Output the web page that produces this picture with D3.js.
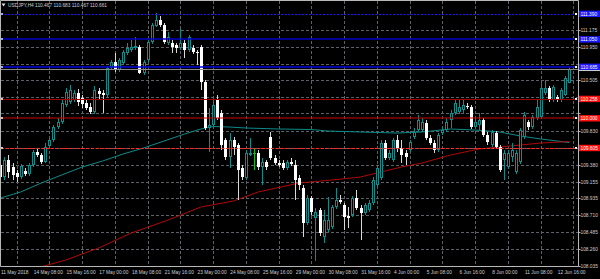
<!DOCTYPE html>
<html><head><meta charset="utf-8">
<script src="https://cdn.jsdelivr.net/npm/d3@7"></script>
<style>body{margin:0;background:#000;overflow:hidden}svg{display:block}</style>
</head><body><svg id="c" width="600" height="279"></svg>
<script>
// ---------------- DATA ----------------
const symbol = "USDJPY,H4";
const open = [109.379,109.219,109.445,109.352,109.272,109.219,109.299,109.259,109.379,109.552,
109.512,109.419,109.632,109.711,109.884,109.951,110.177,110.217,110.244,110.337,
110.270,110.204,110.150,110.084,110.363,110.337,110.310,110.669,110.749,110.643,
110.736,110.869,110.909,110.935,110.949,110.603,110.776,111.015,111.228,111.308,
111.241,111.002,111.002,110.975,110.935,111.002,110.909,110.935,110.882,110.949,
110.483,109.871,109.911,110.244,110.071,109.711,109.485,109.711,109.645,109.339,
109.206,109.512,109.538,109.538,109.352,109.419,109.751,109.472,109.405,109.405,
109.339,109.419,109.379,109.206,109.073,108.607,108.939,108.673,108.780,108.421,
108.514,108.554,108.820,108.913,108.846,108.700,108.713,108.939,108.806,108.740,
108.780,108.873,109.113,109.206,109.671,109.472,109.445,109.711,109.605,109.538,
109.578,109.751,109.844,109.844,109.937,109.738,109.671,109.578,109.804,109.844,
109.977,110.071,110.084,110.110,110.164,110.150,109.884,109.911,109.977,109.778,
109.645,109.804,109.618,109.445,109.352,109.485,109.286,109.419,109.751,109.951,
109.884,110.004,110.017,110.337,110.403,110.244,110.283,110.244,110.310,110.467];
const high = [109.445,109.485,109.512,109.405,109.312,109.392,109.339,109.405,109.578,109.605,
109.538,109.671,109.738,109.911,110.004,110.244,110.403,110.443,110.377,110.390,
110.310,110.244,110.204,110.430,110.403,110.377,110.696,110.776,110.869,110.802,
110.909,111.002,111.042,111.082,110.975,110.776,111.042,111.268,111.401,111.361,
111.268,111.148,111.042,111.002,111.188,111.042,111.108,110.975,110.909,110.975,
110.510,110.137,110.244,110.310,110.110,109.738,109.804,109.751,109.671,109.379,
109.578,109.738,109.592,109.578,109.472,109.445,109.818,109.512,109.445,109.445,
109.445,109.472,109.445,109.246,109.113,108.980,108.966,108.806,108.806,108.780,
108.953,108.846,109.073,108.980,108.873,108.820,108.966,109.046,108.846,108.873,
108.913,109.219,109.379,109.711,109.711,109.578,109.738,109.778,109.711,109.578,
109.711,109.871,110.043,110.004,109.977,109.778,109.711,109.804,109.884,110.004,
110.110,110.244,110.244,110.244,110.204,110.177,110.004,110.071,110.004,109.818,
109.844,109.831,109.645,109.578,109.578,109.671,109.578,109.871,110.084,109.977,
110.043,110.244,110.510,110.510,110.430,110.443,110.310,110.403,110.563,110.683];
const low = [109.179,109.179,109.206,109.179,109.153,109.192,109.232,109.232,109.352,109.485,
109.392,109.405,109.605,109.685,109.858,109.924,110.150,110.190,110.217,110.164,
110.137,110.110,110.057,110.057,110.244,110.071,110.283,110.643,110.616,110.616,
110.709,110.842,110.882,110.909,110.589,110.576,110.749,110.989,111.215,111.215,
110.989,110.975,110.869,110.869,110.909,110.802,110.882,110.856,110.709,110.377,
109.844,109.552,109.884,109.977,109.578,109.445,109.339,109.512,108.913,109.179,
109.179,109.498,109.312,109.312,109.113,109.312,109.445,109.379,109.352,109.312,
109.312,109.365,108.913,109.046,108.421,108.580,108.713,108.102,108.434,108.341,
108.487,108.527,108.793,108.860,108.514,108.540,108.687,108.780,108.381,108.713,
108.753,108.846,109.086,109.179,109.445,109.445,109.419,109.552,109.405,109.379,
109.552,109.725,109.818,109.818,109.711,109.645,109.538,109.552,109.778,109.818,
109.871,110.043,110.057,110.071,110.124,109.858,109.858,109.844,109.751,109.645,
109.618,109.592,109.286,109.179,109.325,109.419,109.259,109.392,109.725,109.844,
109.858,109.977,109.991,110.310,110.217,110.217,110.217,110.217,110.297,110.467];
const close = [109.219,109.445,109.286,109.246,109.219,109.365,109.259,109.379,109.552,109.512,
109.419,109.618,109.711,109.884,109.951,110.204,110.350,110.377,110.337,110.217,
110.190,110.137,110.084,110.377,110.323,110.310,110.669,110.749,110.643,110.776,
110.882,110.935,110.949,110.962,110.603,110.749,111.015,111.241,111.308,111.241,
111.015,111.082,110.949,110.935,111.002,110.909,111.082,110.882,110.869,110.483,
109.871,109.911,110.177,110.004,109.645,109.485,109.711,109.618,109.312,109.219,
109.538,109.538,109.538,109.352,109.419,109.352,109.472,109.405,109.379,109.339,
109.419,109.392,109.179,109.113,108.607,108.939,108.753,108.753,108.474,108.647,
108.647,108.820,108.913,108.886,108.687,108.673,108.939,108.806,108.740,108.846,
108.873,109.179,109.339,109.671,109.472,109.538,109.711,109.605,109.512,109.485,
109.685,109.818,109.977,109.951,109.738,109.671,109.578,109.778,109.844,109.951,
110.071,110.204,110.150,110.177,110.150,109.884,109.951,109.977,109.778,109.685,
109.818,109.618,109.312,109.538,109.538,109.578,109.538,109.844,110.043,109.884,
110.017,110.150,110.403,110.403,110.244,110.416,110.244,110.377,110.536,110.661];

const timeLabels = ["11 May 2018","14 May 08:00","15 May 16:00","17 May 00:00","18 May 08:00","21 May 16:00",
"23 May 00:00","24 May 08:00","25 May 16:00","29 May 00:00","30 May 08:00","31 May 16:00",
"4 Jun 00:00","5 Jun 08:00","6 Jun 16:00","8 Jun 00:00","11 Jun 08:00","12 Jun 16:00"];
const timeLabelBars = [0,8,16,24,32,40,48,56,64,72,80,88,96,104,112,120,128,136];

const priceTicks = [111.175,110.950,110.725,110.505,110.280,110.065,109.830,109.605,109.380,109.155,108.935,108.710,108.485,108.260,108.035];

const maTealBars = [0,5,10,15,20,25,30,35,40,45,49,52,56,60,68,76,80,88,97,103,110,116,122,127,132,139];
const maTeal = [108.939,109.020,109.139,109.246,109.352,109.432,109.525,109.605,109.698,109.791,109.858,109.891,109.884,109.871,109.858,109.851,109.831,109.818,109.804,109.818,109.858,109.844,109.818,109.765,109.725,109.678];
const maRedBars = [9,16,24,32,41,49,57,63,73,81,88,93,98,103,110,117,122,127,132,139];
const maRed = [108.008,108.115,108.274,108.474,108.647,108.820,108.900,109.020,109.139,109.179,109.219,109.286,109.352,109.405,109.512,109.592,109.618,109.645,109.671,109.691];

const levels = [111.390,111.050,110.685,110.258,110.000,109.605];

// ---------------- STYLE ----------------
const levelStyle = [
  {c:"#1a1aff", w:1, dash:"2,1.5", box:"#1a1aff"},
  {c:"#0000c8", w:1.5, dash:null, box:"#1a1aff"},
  {c:"#0000e0", w:1.5, dash:null, box:"#1a1aff"},
  {c:"#a00000", w:1, dash:null, box:"#ff1010"},
  {c:"#d00000", w:1.2, dash:null, box:"#ff1010"},
  {c:"#ff2a2a", w:1, dash:"3,1.5", box:"#ff1010"}
];
const TEAL = "#0b8e8e", BEAR = "#ffffff", TXT = "#cfcfcf", FRAME = "#b8b8b8", GRID = "#5c6268";
const FONT = "'Liberation Sans', Arial, sans-serif", FS = 4.8;

// ---------------- DRAW ----------------
const W = 600, H = 279, PR = 578, PB = 266;
const x = d3.scaleLinear().domain([8,136]).range([33,557]);
const y = d3.scaleLinear().domain([108.035,111.175]).range([266,30]);
const px = v => Math.round(v) + 0.5;

const svg = d3.select("#c");
svg.append("rect").attr("width",W).attr("height",H).attr("fill","#000");
svg.append("defs").append("clipPath").attr("id","clip")
  .append("rect").attr("x",1).attr("y",1).attr("width",PR-1).attr("height",PB-1);
const g = svg.append("g").attr("clip-path","url(#clip)");

// grid
g.selectAll(".vg").data(timeLabelBars).enter().append("line")
  .attr("x1",d=>px(x(d+4))).attr("x2",d=>px(x(d+4))).attr("y1",1).attr("y2",PB)
  .attr("stroke",GRID).attr("stroke-width",1).attr("stroke-dasharray","3,2");
g.selectAll(".hg").data(priceTicks).enter().append("line")
  .attr("x1",1).attr("x2",PR).attr("y1",d=>px(y(d))).attr("y2",d=>px(y(d)))
  .attr("stroke",GRID).attr("stroke-width",1).attr("stroke-dasharray","3,2");

// moving averages
const line = d3.line().x(d=>x(d[0])).y(d=>y(d[1]));
g.append("path").attr("d",line(maTealBars.map((b,i)=>[b,maTeal[i]])))
  .attr("fill","none").attr("stroke","#0c8a8a").attr("stroke-width",1);
g.append("path").attr("d",line(maRedBars.map((b,i)=>[b,maRed[i]])))
  .attr("fill","none").attr("stroke","#b00808").attr("stroke-width",1);

// candles
const idx = d3.range(open.length);
const cg = g.append("g");
idx.forEach(i=>{
  const o=open[i], c=close[i], hi=high[i], lo=low[i];
  const cx = Math.round(x(i));
  const doji = o===c, bull = c>o;
  const col = doji ? "#12c012" : (bull ? TEAL : "#d8d8d8");
  cg.append("line").attr("x1",cx+0.5).attr("x2",cx+0.5)
    .attr("y1",y(hi)).attr("y2",y(lo)).attr("stroke",col).attr("stroke-width",1);
  if (doji) {
    cg.append("line").attr("x1",cx-1).attr("x2",cx+2).attr("y1",px(y(o))).attr("y2",px(y(o)))
      .attr("stroke",col).attr("stroke-width",1);
    return;
  }
  const top = Math.round(y(Math.max(o,c))), bot = Math.round(y(Math.min(o,c)));
  cg.append("rect").attr("x",cx-0.5).attr("width",2)
    .attr("y",top+0.5).attr("height",Math.max(bot-top-1,0.01))
    .attr("fill",bull?"#000":BEAR).attr("stroke",bull?TEAL:BEAR).attr("stroke-width",1);
});

// bid line
const bid = close[close.length-1];
g.append("line").attr("x1",1).attr("x2",PR).attr("y1",px(y(bid))).attr("y2",px(y(bid)))
  .attr("stroke","#8a8a8a").attr("stroke-width",1);

// horizontal level lines
levels.forEach((v,i)=>{
  const s = levelStyle[i];
  const yy = Math.round(y(v)) + (s.w>1?0:0.5);
  const l = g.append("line").attr("x1",1).attr("x2",PR).attr("y1",yy).attr("y2",yy)
    .attr("stroke",s.c).attr("stroke-width",s.w);
  if (s.dash) l.attr("stroke-dasharray",s.dash);
  g.append("rect").attr("x",1).attr("y",Math.round(y(v))-1).attr("width",2).attr("height",2)
    .attr("fill", i<3 ? "#9aa8ff" : "#ffb0b0");
  g.append("rect").attr("x",PR-3).attr("y",Math.round(y(v))-1).attr("width",2).attr("height",2)
    .attr("fill","#ffffff");
});

// frame
svg.append("path").attr("d",`M0.5,${PB+0.5} V0.5 H${PR+0.5} V${PB+0.5} H0.5`)
  .attr("fill","none").attr("stroke",FRAME).attr("stroke-width",1);

// price axis (tick labels hidden under level boxes are not drawn, as in the source)
const covered = t => levels.some(v=>Math.abs(y(v)-y(t))<6.5);
svg.selectAll(".pt").data(priceTicks).enter().append("line")
  .attr("x1",PR+0.5).attr("x2",PR+2.5).attr("y1",d=>px(y(d))).attr("y2",d=>px(y(d)))
  .attr("stroke",FRAME).attr("stroke-width",1);
svg.selectAll(".pl").data(priceTicks.filter(t=>!covered(t))).enter().append("text")
  .attr("x",580.5).attr("y",d=>y(d)+1.7).text(d=>d.toFixed(3))
  .attr("fill",TXT).attr("font-family",FONT).attr("font-size",FS);

// bid box (partly under the level box above it)
svg.append("rect").attr("x",579).attr("y",y(bid)-1).attr("width",21).attr("height",3.4).attr("fill","#d0d0d0");

// level price boxes
levels.forEach((v,i)=>{
  const s = levelStyle[i];
  svg.append("rect").attr("x",579).attr("y",y(v)-3.2).attr("width",21).attr("height",6.4).attr("fill",s.box);
  svg.append("text").attr("x",580.5).attr("y",y(v)+1.7).text(v.toFixed(3))
    .attr("fill","#ffffff").attr("font-family",FONT).attr("font-size",FS);
});

// time axis
svg.selectAll(".tl").data(timeLabels).enter().append("text")
  .attr("x",(d,i)=>x(timeLabelBars[i])+0.8).attr("y",273.8).text(d=>d)
  .attr("fill",TXT).attr("font-family",FONT).attr("font-size",FS);

// title
const last = open.length-1;
svg.append("path").attr("d","M1.5,3.5 L5.5,3.5 L3.5,6.5 Z").attr("fill","#e0e0e0");
svg.append("text").attr("x",8).attr("y",7)
  .text(`${symbol} ${open[last].toFixed(3)} ${high[last].toFixed(3)} ${low[last].toFixed(3)} ${close[last].toFixed(3)}`)
  .attr("fill",TXT).attr("font-family",FONT).attr("font-size",FS);
</script>
</body></html>
